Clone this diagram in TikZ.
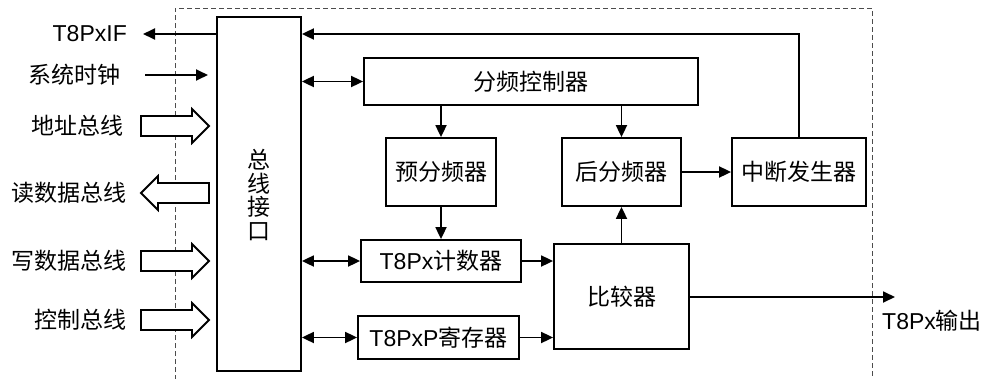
\documentclass[tikz,border=0pt]{standalone}
\usepackage{fontspec}
\setmainfont{Liberation Sans}
\newfontfamily\cjk{Noto Sans CJK SC}
\usetikzlibrary{arrows.meta,calc}
\tikzset{
  blk/.style={draw, line width=1.8pt, inner sep=0pt, font=\fontsize{23}{23.5}\selectfont},
  arr/.style={line width=1.8pt, -{Triangle[length=12pt,width=11pt]}},
  darr/.style={line width=1.8pt, {Triangle[length=12pt,width=11pt]}-{Triangle[length=12pt,width=11pt]}},
  lbl/.style={inner sep=0pt, font=\fontsize{23}{23.5}\selectfont},
  hollow/.style={draw, line width=1.8pt, fill=white},
  frame/.style={draw=black!70, line width=1pt, dash pattern=on 5pt off 3pt}
}
\begin{document}
\begin{tikzpicture}[x=1pt,y=-1pt]
\useasboundingbox (0,0) rectangle (986,378);
% dashed module frame
\draw[frame] (175,380) -- (175,8) -- (872,8) -- (872,380);

% blocks
\node[blk, minimum width=84pt, minimum height=354pt] (bus) at (259,194) {};
\node[lbl, align=center] (bustxt) at (259,195) {\cjk 总\\\cjk 线\\\cjk 接\\\cjk 口};
\node[blk, minimum width=334pt, minimum height=47pt] (div) at (531,81.5) {\cjk 分频控制器};
\node[blk, minimum width=110pt, minimum height=68pt] (pre) at (441,172) {\cjk 预分频器};
\node[blk, minimum width=119pt, minimum height=68pt] (post) at (621.5,172) {\cjk 后分频器};
\node[blk, minimum width=134pt, minimum height=68pt] (int) at (799,172) {\cjk 中断发生器};
\node[blk, minimum width=160pt, minimum height=42pt] (cnt) at (441,261) {T8Px{\cjk 计数器}};
\node[blk, minimum width=161pt, minimum height=43pt] (reg) at (438.5,337.5) {T8PxP{\cjk 寄存器}};
\node[blk, minimum width=135pt, minimum height=105pt] (cmp) at (621.5,296.5) {\cjk 比较器};

% left labels
\node[lbl, anchor=east] (iflbl) at (127,34) {T8PxIF};
\node[lbl, anchor=east] (clk) at (121,75) {\cjk 系统时钟};
\node[lbl, anchor=east] (addr) at (124,126) {\cjk 地址总线};
\node[lbl, anchor=east] (rd) at (127,193) {\cjk 读数据总线};
\node[lbl, anchor=east] (wr) at (127,261) {\cjk 写数据总线};
\node[lbl, anchor=east] (ctl) at (127,320) {\cjk 控制总线};
\node[lbl, anchor=west] (outlbl) at (882,321) {T8Px{\cjk 输出}};

\coordinate (iftip) at (143,34);
\coordinate (clkstart) at (145,75);
\coordinate (clkend) at (208,75);
\coordinate (outtip) at (895,297);

% hollow bus arrows
\draw[hollow] (141,116) -- (192,116) -- (192,109) -- (209,126) -- (192,143) -- (192,136) -- (141,136) -- cycle;
\draw[hollow] (209,183) -- (158,183) -- (158,176) -- (141,193) -- (158,210) -- (158,203) -- (209,203) -- cycle;
\draw[hollow] (141,251) -- (192,251) -- (192,244) -- (209,261) -- (192,278) -- (192,271) -- (141,271) -- cycle;
\draw[hollow] (141,310) -- (192,310) -- (192,303) -- (209,320) -- (192,337) -- (192,330) -- (141,330) -- cycle;

% connectors
\draw[arr] (bus.west |- iflbl) -- (iftip);
\draw[arr] (clkstart) -- (clkend);
\draw[arr] (int.north) |- (bus.east |- iflbl);
\draw[darr] (bus.east |- div) -- (div.west);
\draw[darr] (bus.east |- cnt) -- (cnt.west);
\draw[darr] (bus.east |- reg) -- (reg.west);
\draw[arr] (div.south -| pre) -- (pre.north);
\draw[arr] (div.south -| post) -- (post.north);
\draw[arr] (pre.south) -- (cnt.north);
\draw[arr] (cnt.east) -- (cmp.west |- cnt);
\draw[arr] (reg.east) -- (cmp.west |- reg);
\draw[arr] (cmp.north) -- (post.south);
\draw[arr] (post.east) -- (int.west);
\draw[arr] (cmp.east |- outtip) -- (outtip);
\end{tikzpicture}
\end{document}
